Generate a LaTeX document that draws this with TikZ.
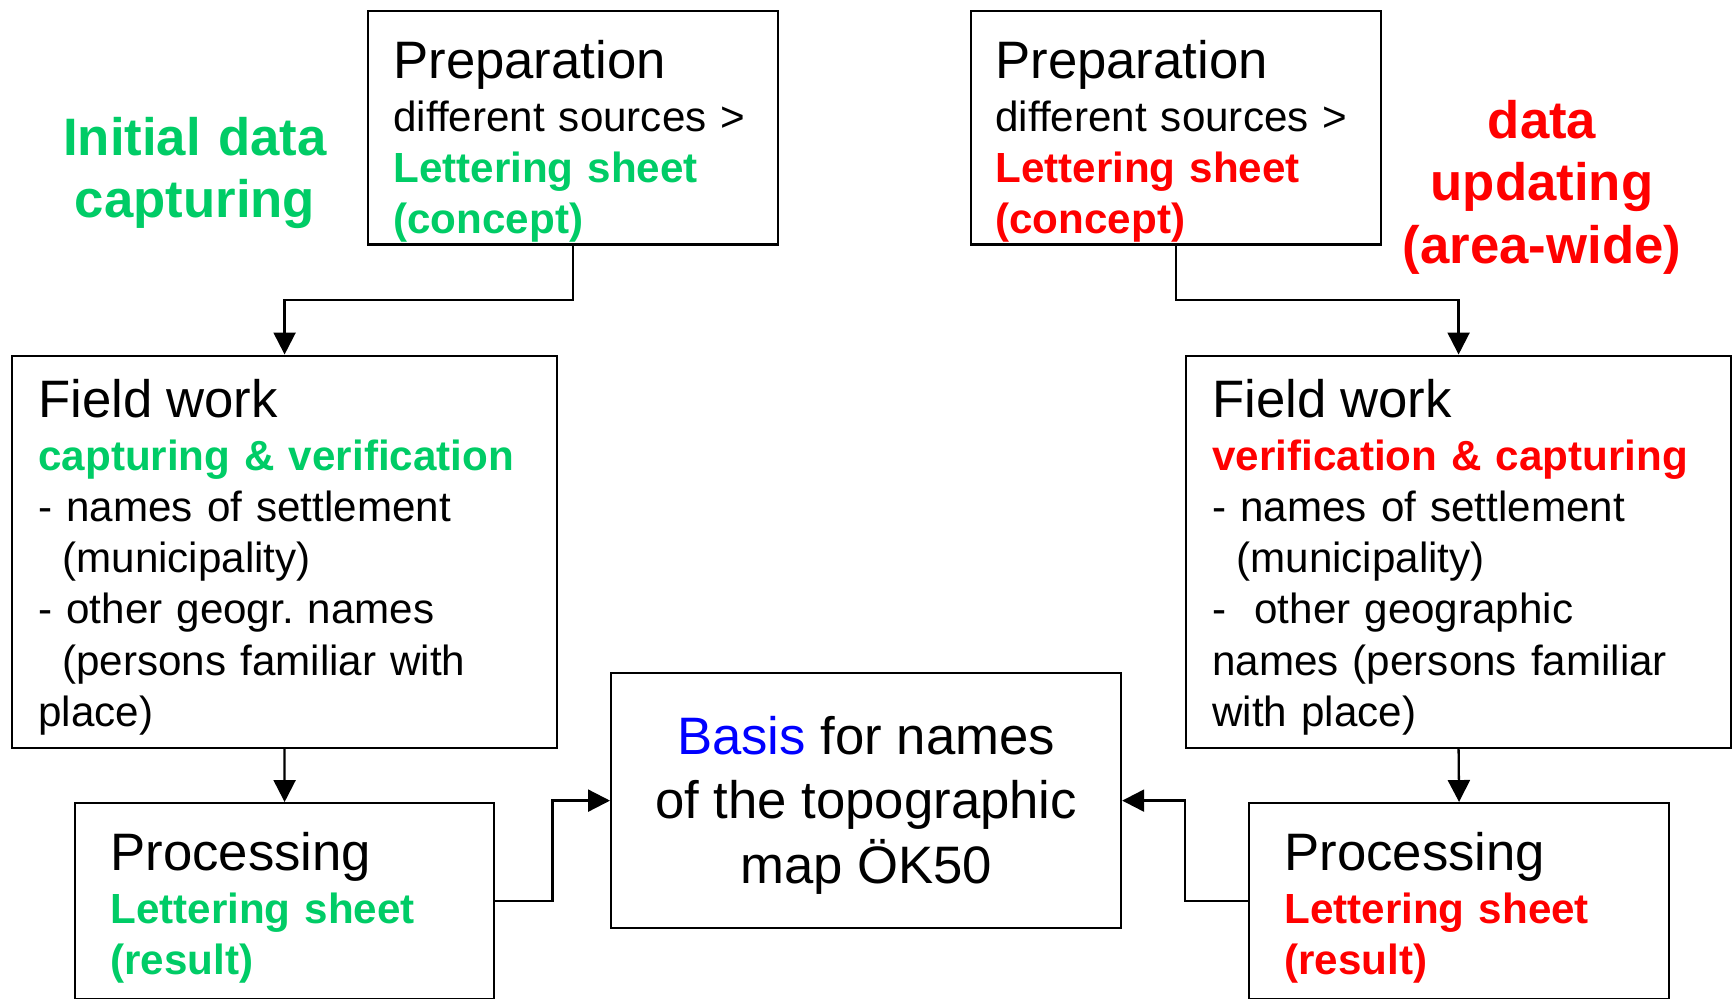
\documentclass[tikz,border=0pt]{standalone}
\usepackage{fontspec}
\setmainfont{Liberation Sans}
\usepackage{xcolor}
\usetikzlibrary{arrows.meta,calc}

\definecolor{initgreen}{RGB}{0,204,102}
\definecolor{updred}{RGB}{255,0,0}
\definecolor{basisblue}{RGB}{0,0,255}
\newcommand{\headsize}{\fontsize{30}{36}\selectfont}
\newcommand{\bodysize}{\fontsize{24}{29.2}\selectfont}
\frenchspacing

\begin{document}
\begin{tikzpicture}[x = 0.02cm, y = -0.02cm,
	box/.style = {draw, line width = 1.3pt, inner sep = 0pt, anchor = north west},
	txt/.style = {anchor = base west, inner sep = 0pt, text width = 12cm, align = left, font = \bodysize},
	stage/.style = {anchor = base, inner sep = 0pt, text width = 8cm, align = center, font = \bfseries\fontsize{30}{35.8}\selectfont},
	flow/.style = {line width = 1.3pt, -{Triangle[length = 12.5pt, width = 12.5pt]}}]
	\path[fill = white, use as bounding box] (0,0) rectangle (1732,998);
	% left side: initial data capturing
	\node[stage, text = initgreen] (initlbl) at (195,155) {Initial data\\capturing};
	\node[box, minimum width = 8.2cm, minimum height = 4.68cm] (prepL) at (367,9.5) {};
	\node[txt] (prepLtxt) at (393,78) {{\headsize Preparation}\\[1pt]
		different sources >\\
		{\color{initgreen}\bfseries Lettering sheet\\(concept)}};
	\node[box, minimum width = 10.9cm, minimum height = 7.85cm] (fieldL) at (11,354.5) {};
	\node[txt] (fieldLtxt) at (38,417) {{\headsize Field work}\\[1pt]
		{\color{initgreen}\bfseries capturing \& verification}\\
		- names of settlement\\
		\hspace*{13.7pt}(municipality)\\
		- other geogr. names\\
		\hspace*{13.7pt}(persons familiar with\\
		place)};
	\node[box, minimum width = 8.38cm, minimum height = 3.92cm] (procL) at (74,802) {};
	\node[txt] (procLtxt) at (110,870) {{\headsize Processing}\\[1pt]
		{\color{initgreen}\bfseries Lettering sheet\\(result)}};
	% right side: data updating
	\node[stage, text = updred] (updlbl) at (1542,138) {data\\updating\\(area-wide)};
	\node[box, minimum width = 8.2cm, minimum height = 4.68cm] (prepR) at (970,9.5) {};
	\node[txt] (prepRtxt) at (995,78) {{\headsize Preparation}\\[1pt]
		different sources >\\
		{\color{updred}\bfseries Lettering sheet\\(concept)}};
	\node[box, minimum width = 10.9cm, minimum height = 7.85cm] (fieldR) at (1185,354.5) {};
	\node[txt] (fieldRtxt) at (1212,417) {{\headsize Field work}\\[1pt]
		{\color{updred}\bfseries verification \& capturing}\\
		- names of settlement\\
		\hspace*{13.7pt}(municipality)\\
		-\ \ other geographic\\
		names (persons familiar\\
		with place)};
	\node[box, minimum width = 8.4cm, minimum height = 3.92cm] (procR) at (1248,802) {};
	\node[txt] (procRtxt) at (1284,870) {{\headsize Processing}\\[1pt]
		{\color{updred}\bfseries Lettering sheet\\(result)}};
	% common result
	\node[box, minimum width = 10.2cm, minimum height = 5.1cm, align = center, font = \fontsize{30}{36.7}\selectfont] (basis) at (610,672) {\rule{0pt}{27pt}\textcolor{basisblue}{Basis} for names\\of the topographic\\map ÖK50};
	% connectors
	\draw[flow] (prepL.south) |- ($(prepL.south)!.5!(fieldL.north)$) -| (fieldL.north);
	\draw[flow] (fieldL.south) -- (procL.north);
	\draw[flow] (procL.east) -| ($(procL.east)!.5!(basis.west)$) |- (basis.west);
	\draw[flow] (prepR.south) |- ($(prepR.south)!.5!(fieldR.north)$) -| (fieldR.north);
	\draw[flow] (fieldR.south) -- (procR.north);
	\draw[flow] (procR.west) -| ($(procR.west)!.5!(basis.east)$) |- (basis.east);
\end{tikzpicture}
\end{document}
